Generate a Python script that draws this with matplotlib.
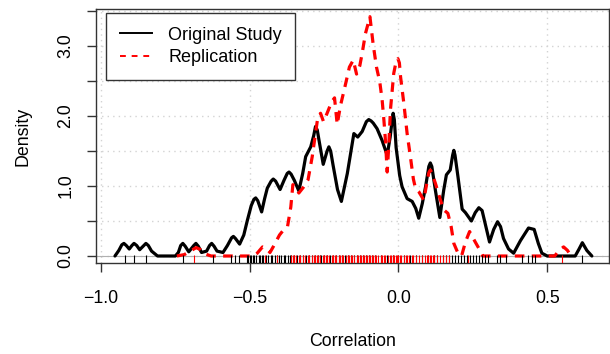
import matplotlib
matplotlib.use("Agg")
import matplotlib.pyplot as plt
from matplotlib.lines import Line2D
import matplotlib.transforms as mtransforms

plt.rcParams['font.family'] = ['Liberation Sans', 'DejaVu Sans']

# Density of original-study correlations
orig_x = [-0.953, -0.94, -0.93, -0.923, -0.915, -0.905, -0.896, -0.889, -0.88, -0.87,
          -0.856, -0.849, -0.841, -0.83, -0.81, -0.75,
          -0.74, -0.732, -0.725, -0.717, -0.705, -0.688, -0.681, -0.673, -0.662, -0.645,
          -0.635, -0.628, -0.62, -0.61, -0.59, -0.575,
          -0.561, -0.555, -0.548, -0.534, -0.52, -0.508, -0.495, -0.486, -0.48, -0.473,
          -0.46, -0.45, -0.441, -0.428, -0.421, -0.413,
          -0.398, -0.385, -0.374, -0.368, -0.361, -0.35, -0.335, -0.322, -0.312, -0.295,
          -0.285, -0.279, -0.273, -0.267,
          -0.253, -0.24, -0.234, -0.228, -0.22, -0.205, -0.192, -0.172, -0.150, -0.137,
          -0.122, -0.108, -0.100, -0.092,
          -0.085, -0.072, -0.055, -0.038, -0.028, -0.021, -0.018, -0.014, -0.008, 0.004,
          0.012, 0.029,
          0.046, 0.058, 0.068, 0.08, 0.091, 0.102, 0.107, 0.112, 0.124, 0.139,
          0.152, 0.161,
          0.174, 0.182, 0.186, 0.19, 0.200, 0.214, 0.225, 0.245, 0.258, 0.270,
          0.281, 0.295,
          0.306, 0.320, 0.333, 0.343, 0.353, 0.370, 0.387, 0.41, 0.437, 0.456,
          0.47, 0.482, 0.50, 0.594, 0.607, 0.618, 0.633, 0.650]
orig_y = [0.0, 0.08, 0.16, 0.18, 0.15, 0.10, 0.15, 0.18, 0.15, 0.09,
          0.15, 0.18, 0.15, 0.07, 0.0, 0.0,
          0.05, 0.15, 0.18, 0.14, 0.06, 0.15, 0.18, 0.14, 0.05, 0.07,
          0.15, 0.18, 0.14, 0.07, 0.05, 0.15,
          0.26, 0.28, 0.25, 0.17, 0.30, 0.51, 0.72, 0.81, 0.83, 0.79,
          0.63, 0.82, 0.97, 1.07, 1.10, 1.07,
          0.95, 1.08, 1.18, 1.20, 1.17, 1.08, 0.93, 1.18, 1.42, 1.56,
          1.72, 1.85, 1.80, 1.65,
          1.31, 1.50, 1.56, 1.50, 1.30, 0.95, 0.78, 1.18, 1.75, 1.70,
          1.78, 1.92, 1.95, 1.93,
          1.90, 1.82, 1.65, 1.44, 1.70, 1.95, 2.04, 1.95, 1.55, 1.15,
          0.99, 0.82,
          0.78, 0.68, 0.54, 0.75, 0.99, 1.28, 1.33, 1.28, 0.94, 0.55,
          0.94, 1.16,
          1.23, 1.44, 1.51, 1.44, 1.13, 0.67, 0.62, 0.50, 0.62, 0.69,
          0.65, 0.40,
          0.20, 0.38, 0.49, 0.42, 0.25, 0.10, 0.04, 0.22, 0.40, 0.38,
          0.18, 0.04, 0.0, 0.0, 0.10, 0.19, 0.08, 0.0]

# Density of replication correlations
rep_x = [-0.745, -0.72, -0.70, -0.68, -0.665, -0.65, -0.63, -0.49, -0.475, -0.457,
         -0.445, -0.432, -0.42, -0.40, -0.385, -0.373, -0.362, -0.355, -0.345, -0.335,
         -0.32, -0.304, -0.29, -0.279, -0.271, -0.262, -0.252, -0.24, -0.225, -0.215,
         -0.206, -0.195, -0.18, -0.165, -0.152, -0.141, -0.13, -0.122, -0.111, -0.096,
         -0.085, -0.074, -0.063, -0.055, -0.049, -0.044, -0.038, -0.033, -0.027, -0.016,
         -0.008, -0.002, 0.003, 0.007, 0.018, 0.029, 0.040, 0.050, 0.057, 0.068, 0.085, 0.096,
         0.102, 0.107, 0.112, 0.124, 0.141, 0.152, 0.166, 0.177, 0.186, 0.199, 0.212, 0.225,
         0.239, 0.258, 0.27, 0.283, 0.525, 0.54, 0.555, 0.568, 0.58]
rep_y = [0.0, 0.02, 0.07, 0.12, 0.09, 0.03, 0.0, 0.0, 0.04, 0.13,
         0.11, 0.05, 0.14, 0.30, 0.38, 0.42, 0.70, 1.02, 0.98, 0.90,
         0.98, 1.09, 1.42, 1.75, 1.99, 2.04, 1.92, 2.04, 2.20, 2.26,
         1.88, 2.15, 2.42, 2.70, 2.80, 2.60, 2.72, 2.90, 3.18, 3.42,
         3.02, 2.70, 2.49, 2.23, 1.94, 1.66, 1.20, 1.55, 2.09, 2.61,
         2.78, 2.82, 2.76, 2.56, 2.18, 1.75, 1.42, 1.10, 0.97, 0.92, 0.80, 1.06,
         1.19, 1.23, 1.19, 1.04, 0.80, 0.66, 0.61, 0.42, 0.18, 0.05, 0.0, 0.20,
         0.35, 0.20, 0.11, 0.0, 0.0, 0.08, 0.13, 0.08, 0.0]

# Rug: individual correlations
orig_rug = [-0.918, -0.888, -0.848, -0.726, -0.625, -0.564, -0.550, -0.537,
            -0.51, -0.505, -0.50, -0.495, -0.49, -0.485, -0.478, -0.47, -0.465, -0.46,
            -0.455, -0.447, -0.44, -0.43, -0.425, -0.415, -0.41, -0.40, -0.395, -0.385,
            -0.38, -0.372, -0.365, -0.36, -0.35, -0.34, -0.33, -0.32, -0.31, -0.30,
            -0.29, -0.28, -0.27, -0.265, -0.26, -0.25, -0.24, -0.23, -0.22, -0.21,
            -0.20, -0.19, -0.18, -0.17, -0.16, -0.15, -0.14, -0.13, -0.12, -0.11,
            -0.10, -0.09, -0.08, -0.06, -0.04, -0.02, 0.0, 0.02, 0.04, 0.06,
            0.08, 0.10, 0.12, 0.13, 0.15, 0.16, 0.17, 0.18, 0.19, 0.20,
            0.21, 0.22, 0.23, 0.24, 0.25, 0.26, 0.27, 0.28, 0.29, 0.30,
            0.331, 0.342, 0.362, 0.415, 0.437, 0.448, 0.460, 0.616]
rep_rug = [-0.687, -0.45, -0.41, -0.36, -0.355, -0.35, -0.345, -0.335, -0.33, -0.32,
           -0.315, -0.305, -0.30, -0.29, -0.285, -0.28, -0.275, -0.27, -0.265, -0.255,
           -0.25, -0.245, -0.24, -0.235, -0.225, -0.22, -0.215, -0.21, -0.20, -0.195,
           -0.19, -0.185, -0.175, -0.17, -0.165, -0.16, -0.155, -0.15, -0.14, -0.135,
           -0.13, -0.125, -0.12, -0.115, -0.11, -0.105, -0.10, -0.095, -0.09, -0.085,
           -0.08, -0.075, -0.07, -0.06, -0.055, -0.05, -0.045, -0.035, -0.03, -0.025,
           -0.02, -0.015, -0.01, -0.005, 0.0, 0.005, 0.01, 0.02, 0.025, 0.03,
           0.035, 0.045, 0.05, 0.06, 0.07, 0.08, 0.09, 0.095, 0.10, 0.105,
           0.11, 0.115, 0.12, 0.13, 0.14, 0.15, 0.16, 0.17, 0.235, 0.549]

x_ticks = [-1.0, -0.5, 0.0, 0.5]
x_tick_labels = ["\u22121.0", "\u22120.5", "0.0", "0.5"]
y_ticks = [0.0, 0.5, 1.0, 1.5, 2.0, 2.5, 3.0, 3.5]
y_tick_labels = ["0.0", "", "1.0", "", "2.0", "", "3.0", ""]
series_labels = ["Original Study", "Replication"]
x_label = "Correlation"
y_label = "Density"

W, H = 610, 354
fig = plt.figure(figsize=(W / 100, H / 100), dpi=100)
ax = fig.add_axes([96 / W, 1 - 263 / H, (609 - 96) / W, (263 - 9) / H])
ax.set_xlim(-1.0168, 0.7076)
ax.set_ylim(-0.10, 3.53)

# grid
for gx in x_ticks:
    ax.axvline(gx, color='#d3d3d3', lw=1.0, ls=(0, (1, 3)), zorder=0)
for gy in y_ticks:
    ax.axhline(gy, color='#d3d3d3', lw=1.0, ls=(0, (1, 3)), zorder=0)

# zero line
ax.axhline(0, color='#b0b0b0', lw=0.8, zorder=1)

ax.plot(orig_x, orig_y, color='black', lw=2.3, solid_joinstyle='round',
        solid_capstyle='round', zorder=3)
ax.plot(rep_x, rep_y, color='red', lw=2.3, dashes=(3.0, 2.3),
        dash_capstyle='butt', dash_joinstyle='round', zorder=3)

trans = mtransforms.blended_transform_factory(ax.transData, ax.transAxes)
ax.vlines(orig_rug, 0, 0.032, transform=trans, color='black', lw=0.8, zorder=4)
ax.vlines(rep_rug, 0, 0.032, transform=trans, color='red', lw=0.8, zorder=5)

ax.set_xticks(x_ticks)
ax.set_xticklabels(x_tick_labels)
ax.set_yticks(y_ticks)
ax.set_yticklabels(y_tick_labels, rotation=90, va='center')
ax.tick_params(axis='both', direction='out', length=6.5, width=1.0,
               labelsize=12.8, color='#333333')
ax.tick_params(axis='x', pad=13)
ax.tick_params(axis='y', pad=9)
for s in ax.spines.values():
    s.set_linewidth(1.0)
    s.set_color('#333333')

ax.set_xlabel(x_label, fontsize=12.8, labelpad=18.5)
ax.set_ylabel(y_label, fontsize=12.8, labelpad=18.5)

handles = [Line2D([], [], color='black', lw=1.4),
           Line2D([], [], color='red', lw=1.4, dashes=(3.0, 3.0))]
leg = ax.legend(handles, series_labels, loc='upper left',
                bbox_to_anchor=(10 / 513, 1 - 4 / 254), fontsize=13,
                frameon=True, fancybox=False, framealpha=1, edgecolor='#333333',
                handlelength=1.8, handletextpad=0.9, labelspacing=0.3,
                borderpad=0.75, borderaxespad=0)
leg.get_frame().set_linewidth(1.0)

fig.savefig("out.png", dpi=100)
